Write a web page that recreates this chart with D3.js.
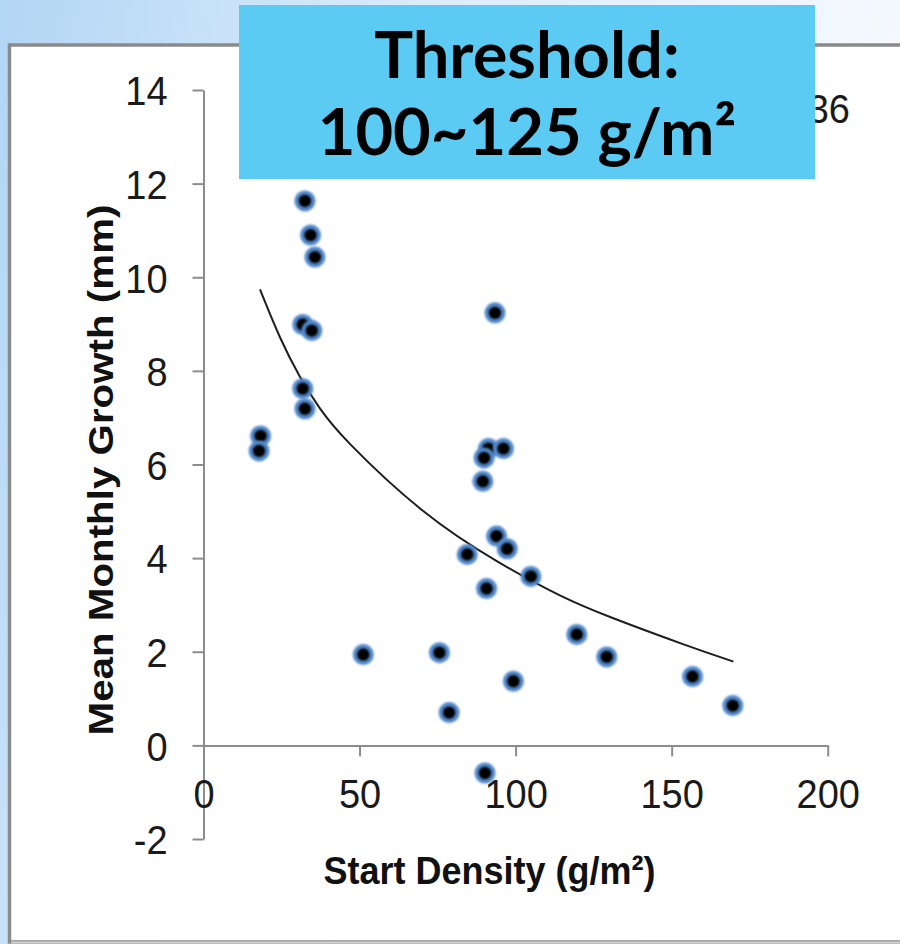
<!DOCTYPE html>
<html lang="en">
<meta charset="utf-8">
<title>Start Density vs Mean Monthly Growth</title>
<style>
	body { margin: 0; padding: 0; overflow: hidden; }
	svg { display: block; }
</style>
<body>
<div id="chartDiv"></div>
<script src="https://cdn.jsdelivr.net/npm/d3@7"></script>
<script>
	// Observations: start density (g/m2) and mean monthly growth (mm).
	var densityX = [32.5, 34.3, 35.7, 31.8, 34.7, 93.4, 31.8, 32.5, 18.3, 17.8,
		91.3, 96.1, 89.9, 89.5, 93.9, 97.3, 84.5, 90.7, 104.9, 119.6,
		129.2, 51.2, 75.6, 78.7, 99.3, 156.7, 169.6, 90.2];
	var growthY = [11.63, 10.90, 10.43, 8.99, 8.86, 9.24, 7.62, 7.19, 6.61, 6.29,
		6.34, 6.34, 6.14, 5.64, 4.47, 4.20, 4.08, 3.35, 3.61, 2.37,
		1.89, 1.94, 1.98, 0.70, 1.37, 1.47, 0.85, -0.59];

	// Trendline.
	var trendX = [18.1, 24.5, 30.9, 37.3, 43.7, 70.3, 95.0, 115.2, 129.2, 156.0, 169.8];
	var trendY = [9.74, 8.68, 7.85, 7.18, 6.62, 4.92, 3.87, 3.15, 2.76, 2.10, 1.79];

	var xTicks = [0, 50, 100, 150, 200];
	var yTicks = [-2, 0, 2, 4, 6, 8, 10, 12, 14];

	var xTitle = "Start Density (g/m\u00B2)";
	var yTitle = "Mean Monthly Growth (mm)";
	var fitLabel = "R\u00B2 = 0.36";
	var bannerLines = ["Threshold:", "100~125 g/m\u00B2"];

	var W = 900, H = 944;
	var svg = d3.select("#chartDiv").append("svg").attr("width", W).attr("height", H);
	var defs = svg.append("defs");

	// Slide background: blue fading to white.
	var bg = defs.append("linearGradient").attr("id", "bgGrad")
		.attr("x1", 0).attr("y1", 0).attr("x2", 1).attr("y2", 0.25);
	bg.append("stop").attr("offset", 0).attr("stop-color", "#b2d6f5");
	bg.append("stop").attr("offset", 0.45).attr("stop-color", "#dcecfa");
	bg.append("stop").attr("offset", 1).attr("stop-color", "#f7fafe");
	svg.append("rect").attr("width", W).attr("height", H).attr("fill", "url(#bgGrad)");

	// Soft edges for the markers.
	defs.append("filter").attr("id", "soft")
		.append("feGaussianBlur").attr("stdDeviation", 0.9);

	// Only the tail of the fit label peeks out right of the banner.
	defs.append("clipPath").attr("id", "fitClip")
		.append("rect").attr("x", 815).attr("y", 60).attr("width", 85).attr("height", 120);

	// White chart panel.
	svg.append("rect").attr("x", 9.5).attr("y", 45).attr("width", 940).attr("height", 897)
		.attr("fill", "#ffffff").attr("stroke", "#8a8a8a").attr("stroke-width", 3.5);
	svg.append("line").attr("x1", 11).attr("x2", W).attr("y1", 942.5).attr("y2", 942.5)
		.attr("stroke", "#d4d4d4").attr("stroke-width", 2);

	// Scales.
	var x = d3.scaleLinear().domain([0, 200]).range([203.5, 827.7]);
	var y = d3.scaleLinear().domain([-2, 14]).range([839, 90]);

	var axisColor = "#8c8c8c";
	var font = "'Liberation Sans', Arial, sans-serif";

	// Y axis.
	var yAxis = svg.append("g").attr("transform", "translate(" + x(0) + ",0)")
		.call(d3.axisLeft(y).tickValues(yTicks).tickSize(11).tickSizeOuter(0)
			.tickFormat(function(d) { return String(d); }));
	// X axis sits at y = 0.
	var xAxis = svg.append("g").attr("transform", "translate(0," + y(0) + ")")
		.call(d3.axisBottom(x).tickValues(xTicks).tickSize(11).tickSizeOuter(0)
			.tickFormat(function(d) { return String(d); }));

	[yAxis, xAxis].forEach(function(g) {
		g.select(".domain").attr("stroke", axisColor).attr("stroke-width", 2);
		g.selectAll(".tick line").attr("stroke", axisColor).attr("stroke-width", 2);
		g.selectAll(".tick text").attr("fill", "#1a1a1a")
			.style("font-family", font).style("font-size", "38px");
	});
	yAxis.selectAll(".tick text").attr("x", -36).attr("dy", "0.36em")
		.attr("transform", "scale(1,1.08)");
	xAxis.selectAll(".tick text").attr("y", 58).attr("dy", 0)
		.attr("transform", "scale(1,1.08)");

	// Trendline.
	var trend = trendX.map(function(d, i) { return [d, trendY[i]]; });
	svg.append("path").datum(trend)
		.attr("fill", "none").attr("stroke", "#1e1e1e").attr("stroke-width", 2)
		.attr("d", d3.line().x(function(d) { return x(d[0]); }).y(function(d) { return y(d[1]); })
			.curve(d3.curveBasis));

	// Markers: blue halo with black core.
	var pts = densityX.map(function(d, i) { return [d, growthY[i]]; });
	var marks = svg.append("g").selectAll("g").data(pts).join("g")
		.attr("transform", function(d) { return "translate(" + x(d[0]) + "," + y(d[1]) + ")"; });
	marks.append("circle").attr("r", 10.5).attr("fill", "#4f86c9").attr("filter", "url(#soft)");
	marks.append("circle").attr("r", 6.2).attr("fill", "#000000").attr("filter", "url(#soft)");

	// Axis titles.
	svg.append("text").attr("transform", "translate(489.5,884) scale(1,1.1)")
		.attr("text-anchor", "middle").style("font-family", font)
		.style("font-size", "36px").style("font-weight", "bold").attr("fill", "#111")
		.text(xTitle);
	svg.append("text").attr("transform", "translate(113,470) rotate(-90) scale(1.12,1)")
		.attr("text-anchor", "middle").style("font-family", font)
		.style("font-size", "36px").style("font-weight", "bold").attr("fill", "#111")
		.text(yTitle);

	// Fit statistic, mostly hidden behind the banner.
	svg.append("g").attr("clip-path", "url(#fitClip)")
		.append("text").attr("transform", "translate(850,123) scale(1,1.08)")
		.attr("text-anchor", "end").style("font-family", font).style("font-size", "38px")
		.attr("fill", "#1a1a1a").text(fitLabel);

	// Threshold banner.
	svg.append("rect").attr("x", 239).attr("y", 5).attr("width", 576).attr("height", 174)
		.attr("fill", "#5ccbf3");
	svg.append("g").selectAll("text").data(bannerLines).join("text")
		.attr("x", 527).attr("y", function(d, i) { return 78 + i * 77; })
		.attr("text-anchor", "middle").style("font-family", "Lato, sans-serif")
		.style("font-size", "65px").style("font-weight", "bold").attr("fill", "#000")
		.text(function(d) { return d; });
</script>
</body>
</html>
